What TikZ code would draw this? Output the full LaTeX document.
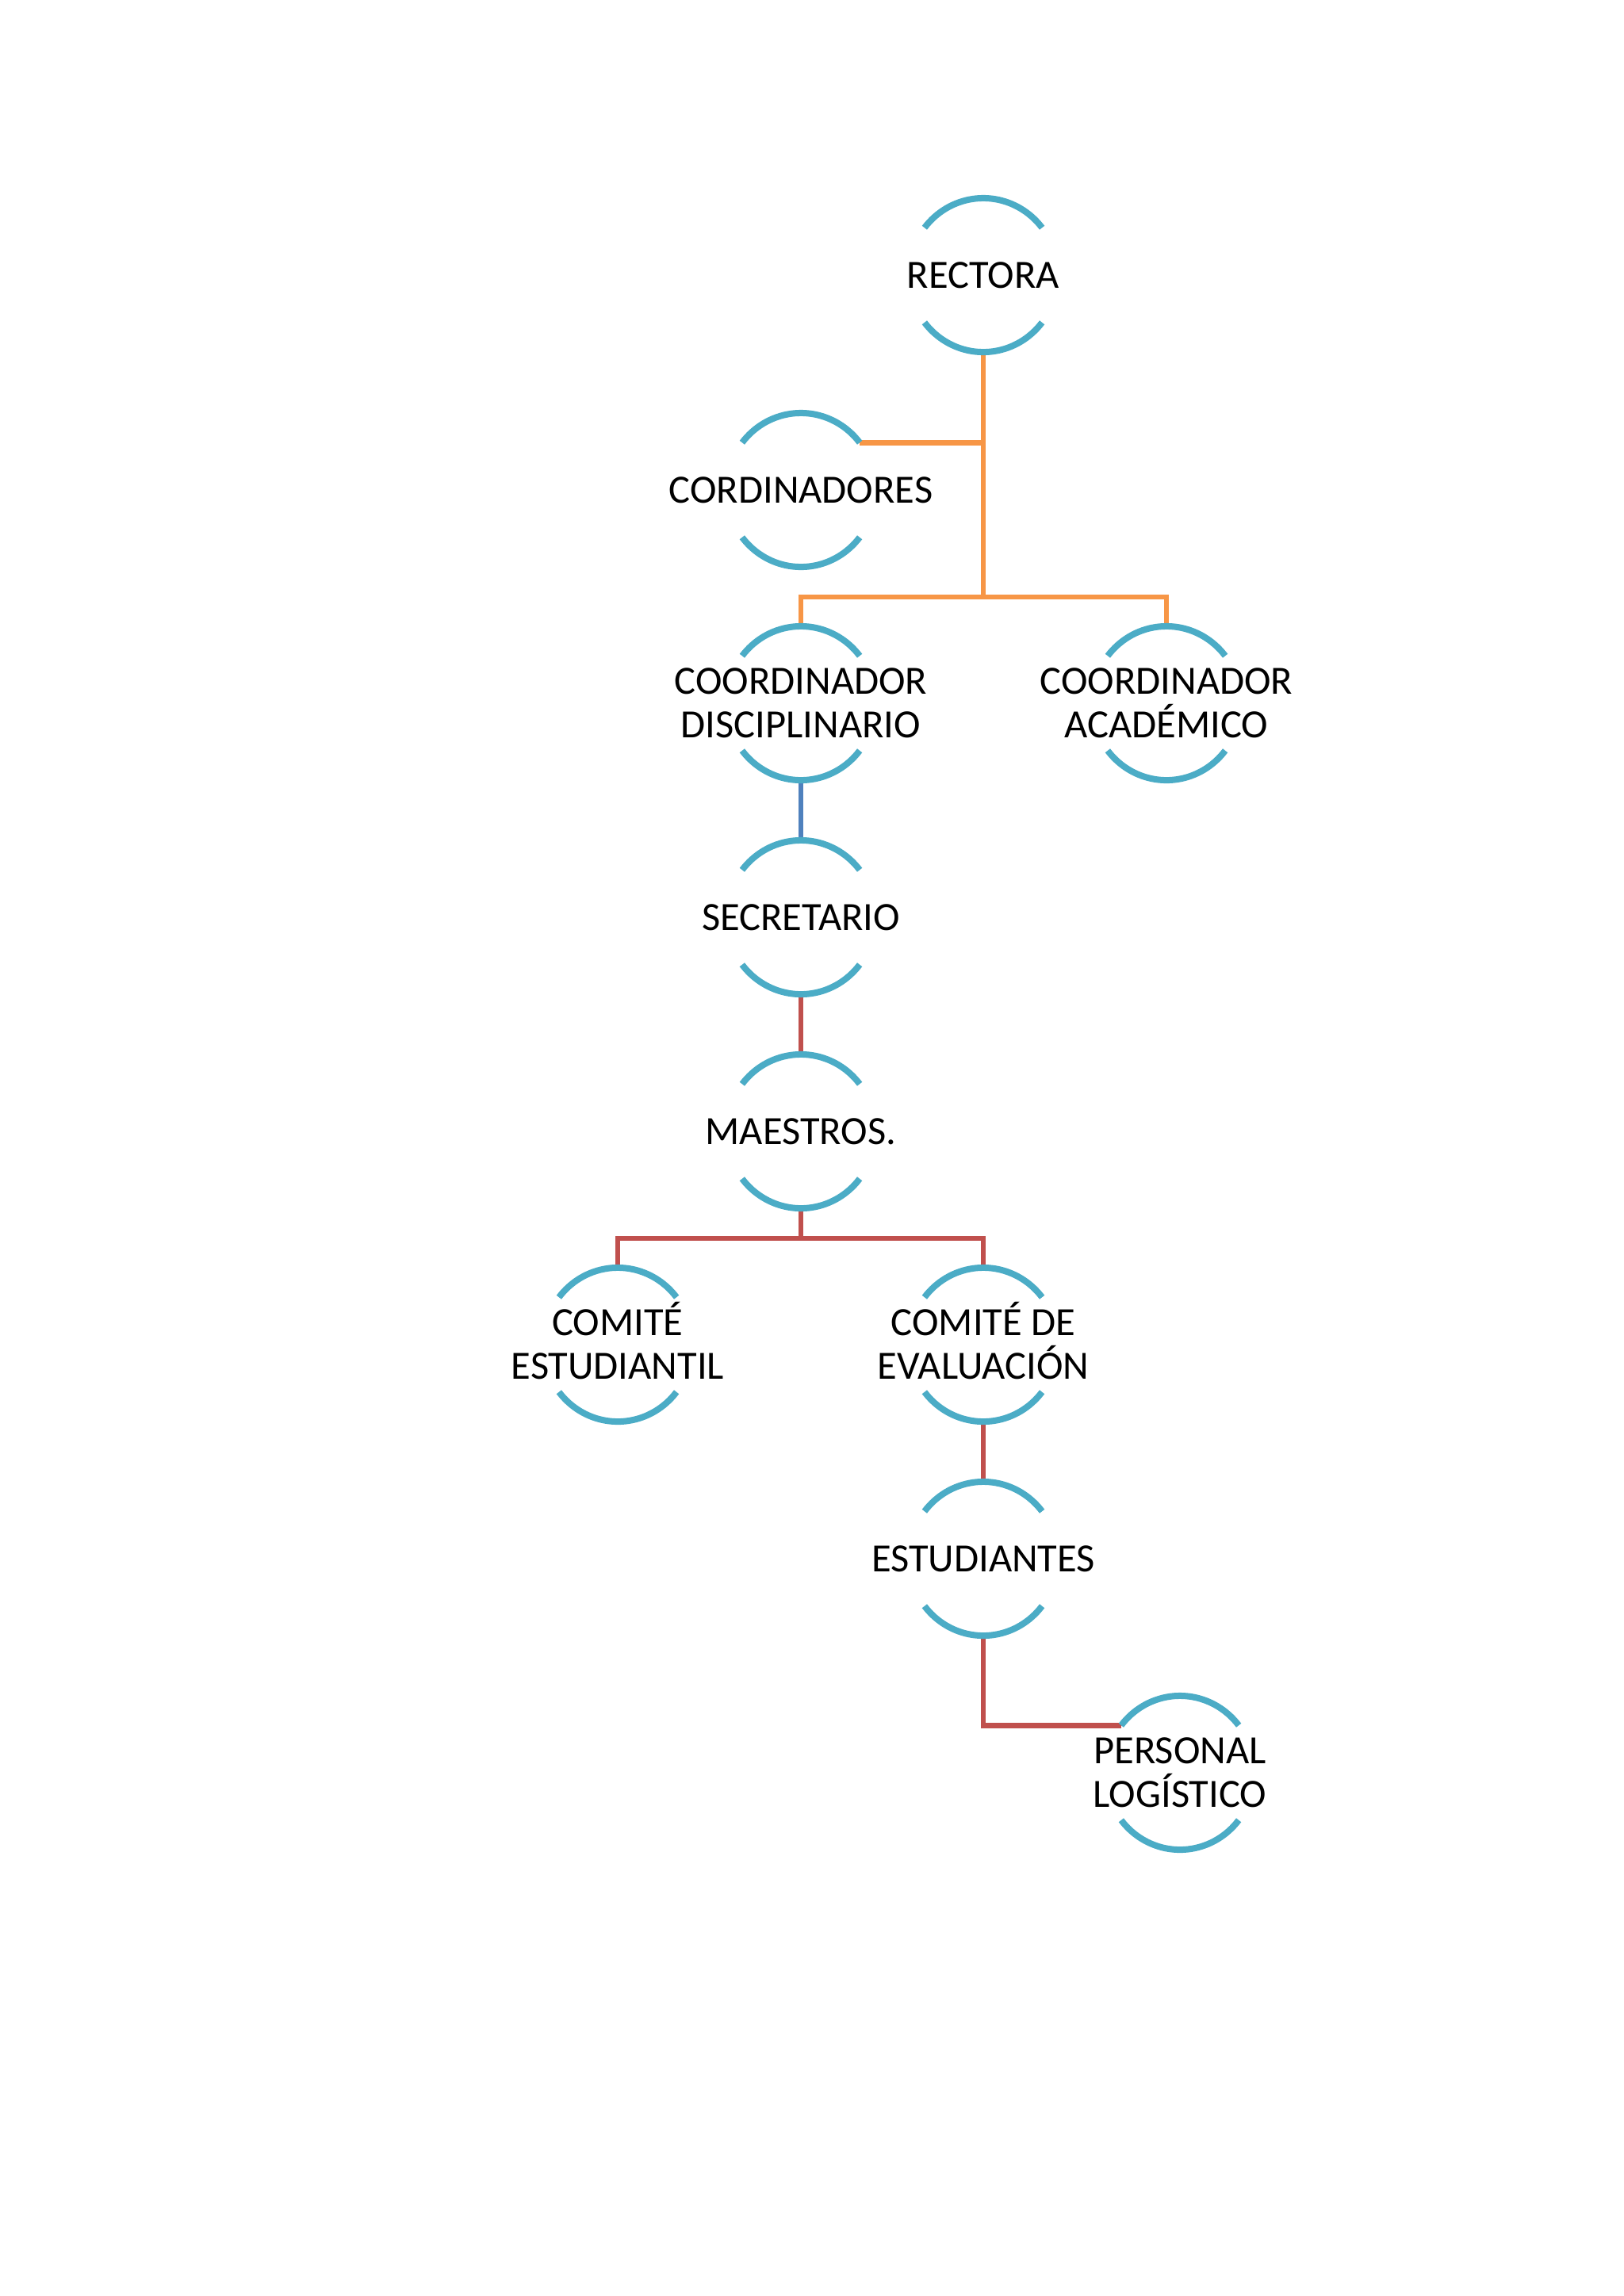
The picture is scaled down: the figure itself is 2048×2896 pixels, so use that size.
\documentclass[tikz,border=0pt]{standalone}
\usepackage{fontspec}
\setmainfont{Carlito}
\definecolor{arcblue}{HTML}{4BACC6}
\definecolor{conorange}{HTML}{F79646}
\definecolor{conred}{HTML}{C0504D}
\definecolor{conblue}{HTML}{4F81BD}
\begin{document}
\begin{tikzpicture}[x=0.01cm,y=0.01cm,
  unit/.style={circle, minimum size=1.94cm, inner sep=0pt, outer sep=0pt},
  lbl/.style={font=\fontsize{14.37}{15.65}\selectfont, inner sep=0pt, outer sep=0pt, anchor=base, text=black},
  arcline/.style={draw=arcblue, line width=0.08cm},
  conn/.style={line width=0.068cm},
]
\fill[white] (0,0) rectangle (2048,-2896);
\useasboundingbox (0,0) rectangle (2048,-2896);

% units
\node[unit] (rect) at (1240,-347) {};
\node[unit] (cord) at (1010,-618) {};
\node[unit] (disc) at (1010,-887) {};
\node[unit] (acad) at (1471,-887) {};
\node[unit] (secr) at (1010,-1157) {};
\node[unit] (maes) at (1010,-1427) {};
\node[unit] (cest) at (779,-1696) {};
\node[unit] (ceva) at (1240,-1696) {};
\node[unit] (estu) at (1240,-1966) {};
\node[unit] (pers) at (1488,-2236) {};

% helper coordinates
\coordinate (j1) at (1240,-753);
\coordinate (j2) at (1010,-1562);
\coordinate (cordE) at ([shift={(38:0.94cm and 0.97cm)}]cord.center);
\coordinate (persW) at ([shift={(142:0.94cm and 0.97cm)}]pers.center);

% connectors
\draw[conn, conorange] (rect.south) -- (j1);
\draw[conn, conorange] (cordE) -- (cordE -| rect.south);
\draw[conn, conorange] (disc.north) |- (j1) -| (acad.north);
\draw[conn, conblue] (disc.south) -- (secr.north);
\draw[conn, conred] (secr.south) -- (maes.north);
\draw[conn, conred] (maes.south) -- (j2);
\draw[conn, conred] (cest.north) |- (j2) -| (ceva.north);
\draw[conn, conred] (ceva.south) -- (estu.north);
\draw[conn, conred] (estu.south) |- (persW);

% arcs
\foreach \n in {rect,cord,disc,acad,secr,maes,cest,ceva,estu,pers}{
  \draw[arcline] ([shift={(38:0.94cm and 0.97cm)}]\n.center)
    arc[start angle=38, end angle=142, x radius=0.94cm, y radius=0.97cm];
  \draw[arcline] ([shift={(218:0.94cm and 0.97cm)}]\n.center)
    arc[start angle=218, end angle=322, x radius=0.94cm, y radius=0.97cm];
}

% labels
\node[lbl] (rect-t) at ([yshift=-0.16cm]rect.center) {RECTORA};
\node[lbl] (cord-t) at ([yshift=-0.16cm]cord.center) {CORDINADORES};
\node[lbl] (disc-t1) at ([yshift=0.115cm]disc.center) {COORDINADOR};
\node[lbl] (disc-t2) at ([yshift=-0.435cm]disc.center) {DISCIPLINARIO};
\node[lbl] (acad-t1) at ([yshift=0.115cm]acad.center) {COORDINADOR};
\node[lbl] (acad-t2) at ([yshift=-0.435cm]acad.center) {ACADÉMICO};
\node[lbl] (secr-t) at ([yshift=-0.16cm]secr.center) {SECRETARIO};
\node[lbl] (maes-t) at ([yshift=-0.16cm]maes.center) {MAESTROS.};
\node[lbl] (cest-t1) at ([yshift=0.115cm]cest.center) {COMITÉ};
\node[lbl] (cest-t2) at ([yshift=-0.435cm]cest.center) {ESTUDIANTIL};
\node[lbl] (ceva-t1) at ([yshift=0.115cm]ceva.center) {COMITÉ DE};
\node[lbl] (ceva-t2) at ([yshift=-0.435cm]ceva.center) {EVALUACIÓN};
\node[lbl] (estu-t) at ([yshift=-0.16cm]estu.center) {ESTUDIANTES};
\node[lbl] (pers-t1) at ([yshift=0.115cm]pers.center) {PERSONAL};
\node[lbl] (pers-t2) at ([yshift=-0.435cm]pers.center) {LOGÍSTICO};
\end{tikzpicture}
\end{document}
